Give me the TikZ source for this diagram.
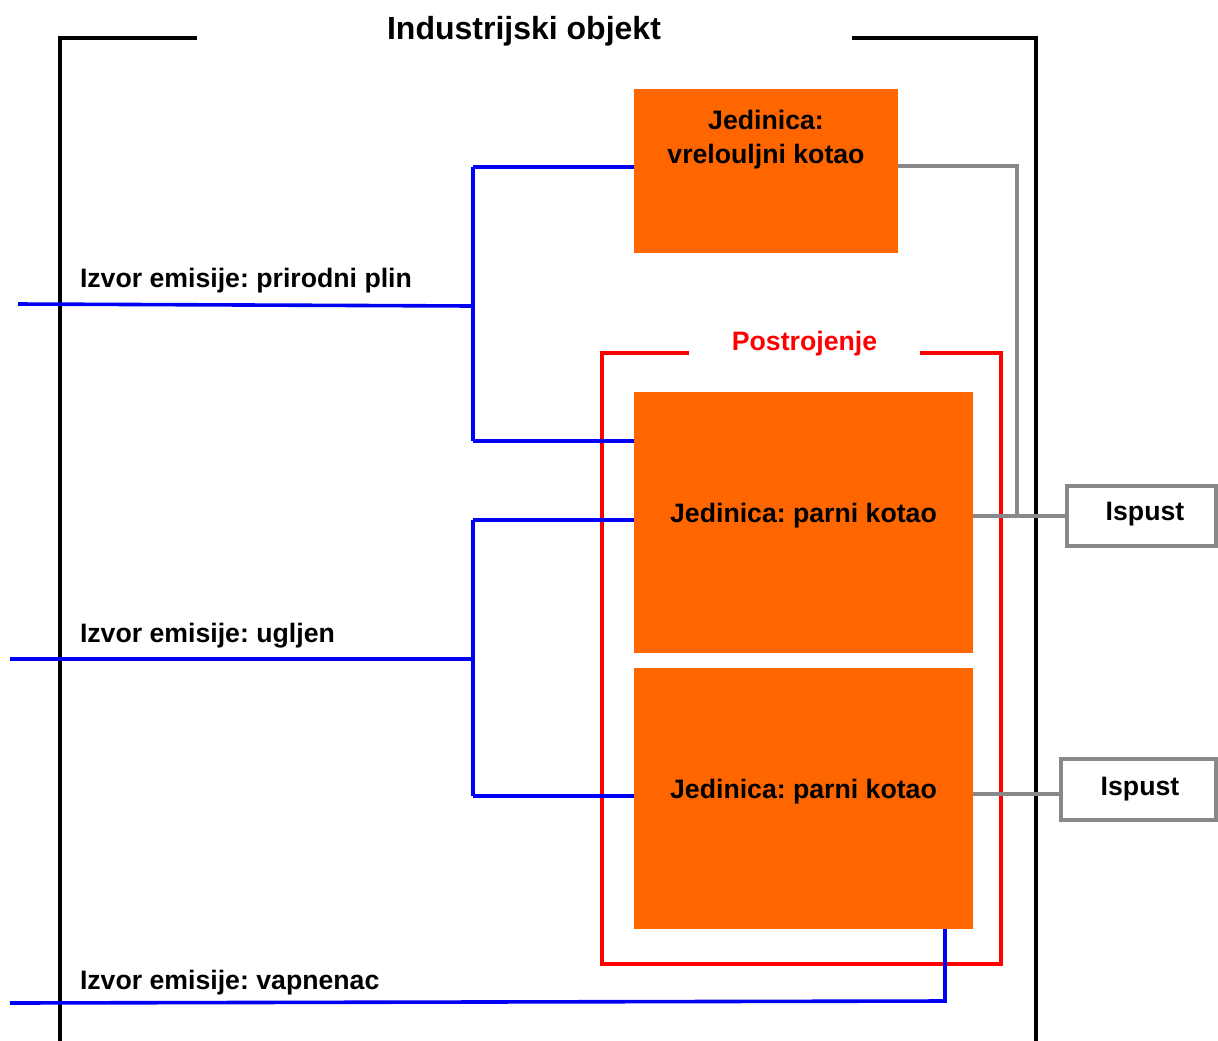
\documentclass[tikz,border=0pt]{standalone}
\usepackage{fontspec}
\setmainfont{Liberation Sans}
\usetikzlibrary{calc}
\definecolor{orng}{HTML}{FF6600}
\definecolor{rd}{HTML}{FF0000}
\definecolor{bl}{HTML}{0000F5}
\definecolor{gry}{HTML}{888888}
\frenchspacing
\begin{document}
\begin{tikzpicture}[x=0.75pt,y=-0.75pt,
  txt/.style={font=\fontsize{20}{25.5}\selectfont\bfseries\frenchspacing, inner sep=0pt, outer sep=0pt},
  ttl/.style={font=\fontsize{24}{28}\selectfont\bfseries, inner sep=0pt, outer sep=0pt},
  obox/.style={fill=orng, draw=none, inner sep=0pt, outer sep=0pt},
  ispbox/.style={draw=gry, line width=2.7pt, fill=white, inner sep=0pt, outer sep=0pt},
  frameline/.style={line width=3.6pt, black},
  blueline/.style={line width=2.7pt, bl},
  redline/.style={line width=2.5pt, rd},
  grayline/.style={line width=2.7pt, gry}]
\path[use as bounding box] (0,0) rectangle (1218,1040);
% outer frame
\draw[frameline] (197,38) -- (60,38) -- (60,1042);
\draw[frameline] (852,38) -- (1036,38) -- (1036,1042);
\node[ttl, anchor=base] (title) at (524,39) {Industrijski objekt};
% red plant frame
\draw[redline] (689,353) -- (602,353) -- (602,964) -- (1001,964) -- (1001,353) -- (920,353);
\node[txt, anchor=base, text=rd] (plant) at (804.5,350) {Postrojenje};
% orange units
\node[obox, minimum width=198pt, minimum height=123pt] (top) at (766,171) {};
\node[txt, anchor=base, align=center] (toptxt) at (766,163) {Jedinica:\\vrelouljni kotao};
\node[obox, minimum width=254.25pt, minimum height=195.75pt] (b2) at (803.5,522.5) {};
\node[txt, anchor=base] (b2txt) at (803.5,522) {Jedinica: parni kotao};
\node[obox, minimum width=254.25pt, minimum height=195.75pt] (b3) at (803.5,798.5) {};
\node[txt, anchor=base] (b3txt) at (803.5,798) {Jedinica: parni kotao};
% discharge boxes
\node[ispbox, minimum width=111.75pt, minimum height=45pt] (is1) at (1141.5,516) {};
\node[txt, anchor=base] (is1txt) at (1145,520) {Ispust};
\node[ispbox, minimum width=116.25pt, minimum height=45.75pt] (is2) at (1138.5,789.5) {};
\node[txt, anchor=base] (is2txt) at (1140,795) {Ispust};
% source labels
\node[txt, anchor=base west] (lgas) at (80,287) {Izvor emisije: prirodni plin};
\node[txt, anchor=base west] (lcoal) at (80,642) {Izvor emisije: ugljen};
\node[txt, anchor=base west] (llime) at (80,989) {Izvor emisije: vapnenac};
% natural gas
\coordinate (gIn) at (18,304);
\coordinate (gJ) at (473,306);
\coordinate (gT) at (473,167);
\coordinate (gB) at (473,441);
\draw[blueline] (gIn) -- (gJ);
\draw[blueline] (gT) -- (gB);
\draw[blueline] (gT) -- (gT -| top.west);
\draw[blueline] (gB) -- (gB -| b2.west);
% coal
\coordinate (cIn) at (10,659);
\coordinate (cJ) at (473,659);
\coordinate (cT) at (473,520);
\coordinate (cB) at (473,796);
\draw[blueline] (cIn) -- (cJ);
\draw[blueline] (cT) -- (cB);
\draw[blueline] (cT) -- (cT -| b2.west);
\draw[blueline] (cB) -- (cB -| b3.west);
% limestone
\coordinate (lIn) at (10,1003);
\coordinate (lJ) at (945,1001);
\draw[blueline] (lIn) -- (lJ) -- (lJ |- b3.south);
% gray exhaust lines
\coordinate (k1) at (1017,166);
\coordinate (k2) at (1017,516);
\draw[grayline] (k1 -| top.east) -- (k1) -- (k2);
\draw[grayline] (b2.east |- k2) -- (is1.west);
\coordinate (k3) at (1061,794);
\draw[grayline] (b3.east |- k3) -- (k3 -| is2.west);
\end{tikzpicture}
\end{document}
